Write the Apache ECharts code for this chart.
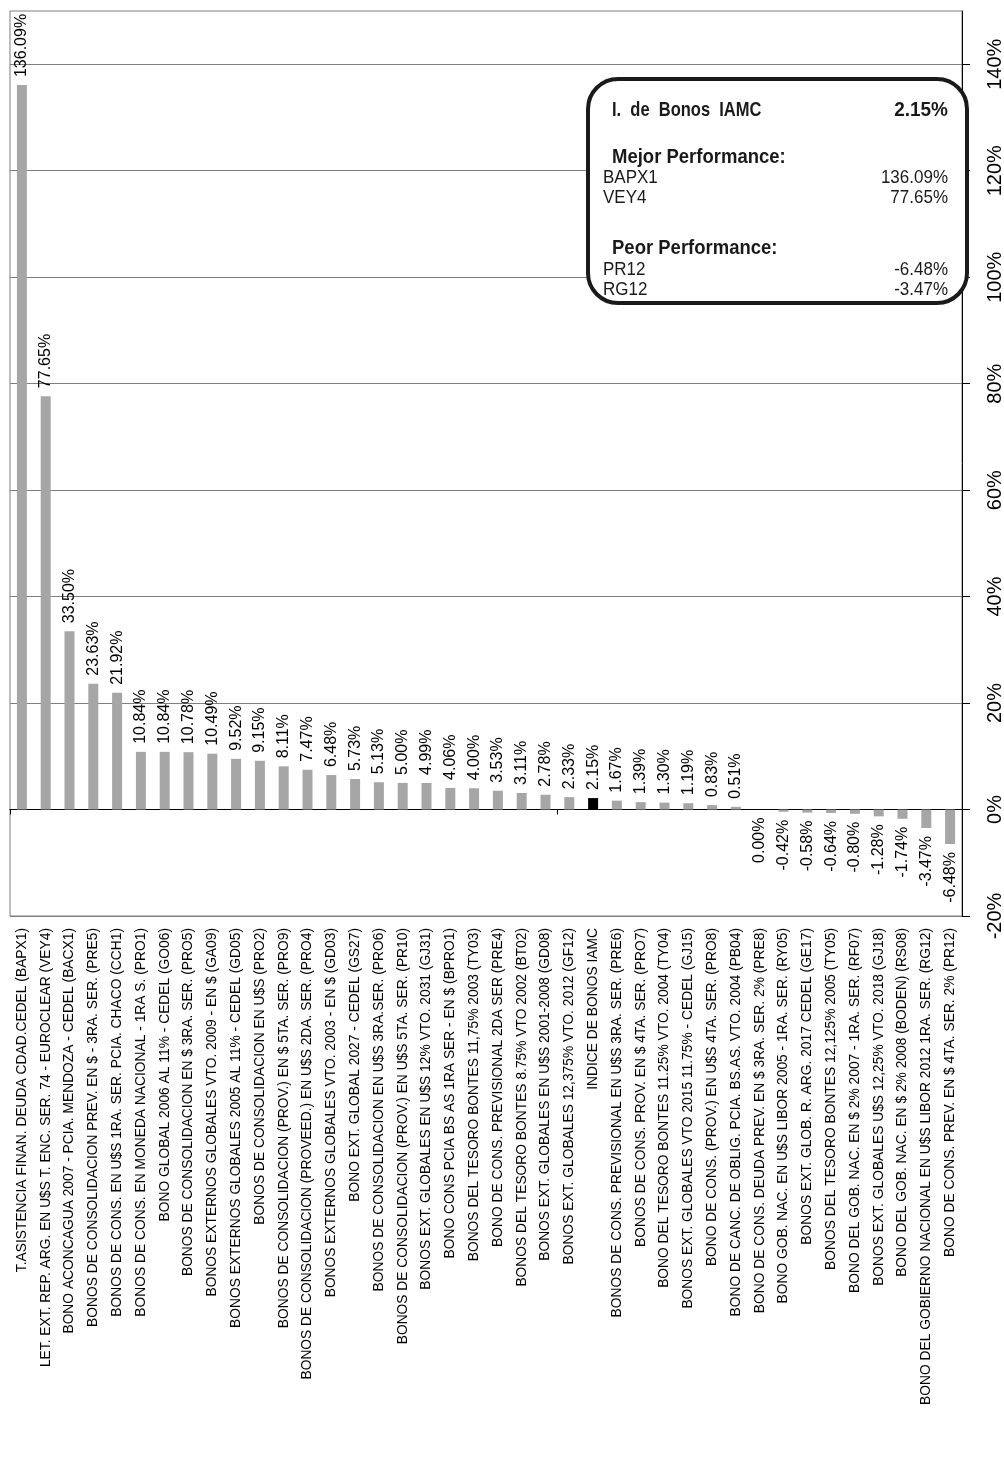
<!DOCTYPE html>
<html><head><meta charset="utf-8">
<script src="https://cdn.jsdelivr.net/npm/echarts@6/dist/echarts.min.js"></script>
<style>html,body{margin:0;padding:0;background:#fff}#c{width:1004px;height:1473px}</style>
</head><body><div id="c"></div>
<script>
const categories = [
  'T.ASISTENCIA FINAN. DEUDA CDAD.CEDEL (BAPX1)',
  'LET. EXT. REP. ARG. EN U$S T. ENC. SER. 74 - EUROCLEAR (VEY4)',
  'BONO ACONCAGUA 2007 - PCIA. MENDOZA - CEDEL (BACX1)',
  'BONOS DE CONSOLIDACION PREV. EN $ - 3RA. SER. (PRE5)',
  'BONOS DE CONS. EN U$S 1RA. SER. PCIA. CHACO (CCH1)',
  'BONOS DE CONS. EN MONEDA NACIONAL - 1RA S. (PRO1)',
  'BONO GLOBAL 2006 AL 11% - CEDEL (GO06)',
  'BONOS DE CONSOLIDACION EN $ 3RA. SER. (PRO5)',
  'BONOS EXTERNOS GLOBALES VTO. 2009 - EN $ (GA09)',
  'BONOS EXTERNOS GLOBALES 2005 AL 11% - CEDEL (GD05)',
  'BONOS DE CONSOLIDACION EN U$S (PRO2)',
  'BONOS DE CONSOLIDACION (PROV.) EN $ 5TA. SER. (PRO9)',
  'BONOS DE CONSOLIDACION (PROVEED.) EN U$S 2DA. SER. (PRO4)',
  'BONOS EXTERNOS GLOBALES VTO. 2003 - EN $ (GD03)',
  'BONO EXT. GLOBAL 2027 - CEDEL (GS27)',
  'BONOS DE CONSOLIDACION EN U$S 3RA.SER. (PRO6)',
  'BONOS DE CONSOLIDACION (PROV.) EN U$S 5TA. SER. (PR10)',
  'BONOS EXT. GLOBALES EN U$S 12% VTO. 2031 (GJ31)',
  'BONO CONS PCIA BS AS 1RA SER - EN $ (BPRO1)',
  'BONOS DEL TESORO BONTES 11,75% 2003 (TY03)',
  'BONO DE CONS. PREVISIONAL 2DA SER (PRE4)',
  'BONOS DEL TESORO BONTES 8.75% VTO 2002 (BT02)',
  'BONOS EXT. GLOBALES EN U$S 2001-2008 (GD08)',
  'BONOS EXT. GLOBALES 12,375% VTO. 2012 (GF12)',
  'INDICE DE BONOS IAMC',
  'BONOS DE CONS. PREVISIONAL EN U$S 3RA. SER. (PRE6)',
  'BONOS DE CONS. PROV. EN $ 4TA. SER. (PRO7)',
  'BONO DEL TESORO BONTES 11.25% VTO. 2004 (TY04)',
  'BONOS EXT. GLOBALES VTO 2015 11.75% - CEDEL (GJ15)',
  'BONO DE CONS. (PROV.) EN U$S 4TA. SER. (PRO8)',
  'BONO DE CANC. DE OBLIG. PCIA. BS.AS. VTO. 2004 (PB04)',
  'BONO DE CONS. DEUDA PREV. EN $ 3RA. SER. 2% (PRE8)',
  'BONO GOB. NAC. EN U$S LIBOR 2005 - 1RA. SER. (RY05)',
  'BONOS EXT. GLOB. R. ARG. 2017 CEDEL (GE17)',
  'BONOS DEL TESORO BONTES 12,125% 2005 (TY05)',
  'BONO DEL GOB. NAC. EN $ 2% 2007 - 1RA. SER. (RF07)',
  'BONOS EXT. GLOBALES U$S 12,25% VTO. 2018 (GJ18)',
  'BONO DEL GOB. NAC. EN $ 2% 2008 (BODEN) (RS08)',
  'BONO DEL GOBIERNO NACIONAL EN U$S LIBOR 2012 1RA. SER. (RG12)',
  'BONO DE CONS. PREV. EN $ 4TA. SER. 2% (PR12)'
];
const values = [
  136.09, 77.65, 33.50, 23.63, 21.92, 10.84, 10.84, 10.78, 10.49, 9.52,
  9.15, 8.11, 7.47, 6.48, 5.73, 5.13, 5.00, 4.99, 4.06, 4.00,
  3.53, 3.11, 2.78, 2.33, 2.15, 1.67, 1.39, 1.30, 1.19, 0.83,
  0.51, 0.00, -0.42, -0.58, -0.64, -0.80, -1.28, -1.74, -3.47, -6.48
];
const indexName = 'INDICE DE BONOS IAMC';
const indexTitle = 'I.  de  Bonos  IAMC';
const valueTicks = [-20, 0, 20, 40, 60, 80, 100, 120, 140];

const FONT = "'Liberation Sans', Arial, Helvetica, sans-serif";
const fmt = v => v.toFixed(2) + '%';
const code = s => { const m = s.match(/\(([^()]*)\)\s*$/); return m ? m[1] : s; };

const bonds = categories.map((c, i) => ({ c, v: values[i] })).filter(d => d.c !== indexName);
const sorted = bonds.slice().sort((a, b) => b.v - a.v);
const best = sorted.slice(0, 2);
const worst = sorted.slice(-2).reverse();
const indexValue = values[categories.indexOf(indexName)];

const barData = values.map((v, i) => ({
  value: v,
  itemStyle: { color: categories[i] === indexName ? '#000000' : '#a6a6a6' },
  label: v > 0 ? { position: 'top', align: 'left' } : { position: 'bottom', align: 'right' }
}));

const chart = echarts.init(document.getElementById('c'), null, { renderer: 'canvas' });

const boxX = 588, boxY = 79, boxW = 379, boxH = 224;
const leftBold = 612, leftReg = 603, rightX = 948;
const txt = (text, x, y, opt, sy) => ({
  type: 'text', z: 101, x, y, scaleY: sy || 1.08,
  style: Object.assign({ text, fill: '#1a1a1a', font: '17px ' + FONT, textVerticalAlign: 'middle', textAlign: 'left' }, opt || {})
});

chart.setOption({
  animation: false,
  backgroundColor: '#ffffff',
  grid: {
    left: 10, right: 42, top: 11, bottom: 557,
    show: true, borderColor: '#7f7f7f', borderWidth: 1,
    containLabel: false, outerBoundsMode: 'none'
  },
  xAxis: [
    {
      type: 'category', data: categories, position: 'bottom',
      axisLine: { show: false, onZero: false },
      axisTick: { show: false },
      axisLabel: { rotate: 90, interval: 0, fontSize: 13.8, margin: 12, color: '#000', fontFamily: FONT, padding: [9, 0, 0, 0] },
      splitLine: { show: false }
    },
    {
      type: 'category', data: categories, position: 'top',
      axisLine: { show: true, onZero: true, lineStyle: { color: '#000', width: 1 } },
      axisTick: { show: true, inside: true, length: 5, lineStyle: { color: '#000' } },
      axisLabel: { show: false },
      splitLine: { show: false }
    }
  ],
  yAxis: {
    type: 'value', position: 'right', min: -20, max: 150, interval: 20,
    axisLine: { show: true, lineStyle: { color: '#000', width: 1 } },
    axisTick: { show: true, length: 8, customValues: valueTicks, lineStyle: { color: '#000' } },
    axisLabel: {
      rotate: 90, fontSize: 20, margin: 23, color: '#000', fontFamily: FONT,
      customValues: valueTicks,
      formatter: v => (v > 145 ? '' : v + '%')
    },
    splitLine: { show: true, lineStyle: { color: '#7f7f7f', width: 1 } }
  },
  series: [{
    type: 'bar', xAxisIndex: 0, yAxisIndex: 0,
    data: barData, barWidth: 10,
    label: {
      show: true, rotate: 90, verticalAlign: 'middle', distance: 8,
      fontSize: 16, color: '#000', fontFamily: FONT,
      formatter: p => fmt(p.value)
    }
  }],
  graphic: [
    {
      type: 'rect', z: 100,
      shape: { x: boxX, y: boxY, width: boxW, height: boxH, r: 30 },
      style: { fill: '#ffffff', stroke: '#1a1a1a', lineWidth: 4 }
    },
    txt(indexTitle, leftBold, 110, { font: 'bold 16.5px ' + FONT }, 1.25),
    txt(fmt(indexValue), rightX, 110, { font: 'bold 19px ' + FONT, textAlign: 'right' }, 1.1),
    txt('Mejor Performance:', leftBold, 157, { font: 'bold 18.5px ' + FONT }, 1.1),
    txt(code(best[0].c), leftReg, 178),
    txt(fmt(best[0].v), rightX, 178, { textAlign: 'right' }),
    txt(code(best[1].c), leftReg, 198),
    txt(fmt(best[1].v), rightX, 198, { textAlign: 'right' }),
    txt('Peor Performance:', leftBold, 248, { font: 'bold 18.5px ' + FONT }, 1.1),
    txt(code(worst[0].c), leftReg, 270),
    txt(fmt(worst[0].v), rightX, 270, { textAlign: 'right' }),
    txt(code(worst[1].c), leftReg, 290),
    txt(fmt(worst[1].v), rightX, 290, { textAlign: 'right' })
  ]
});
</script>
</body></html>
